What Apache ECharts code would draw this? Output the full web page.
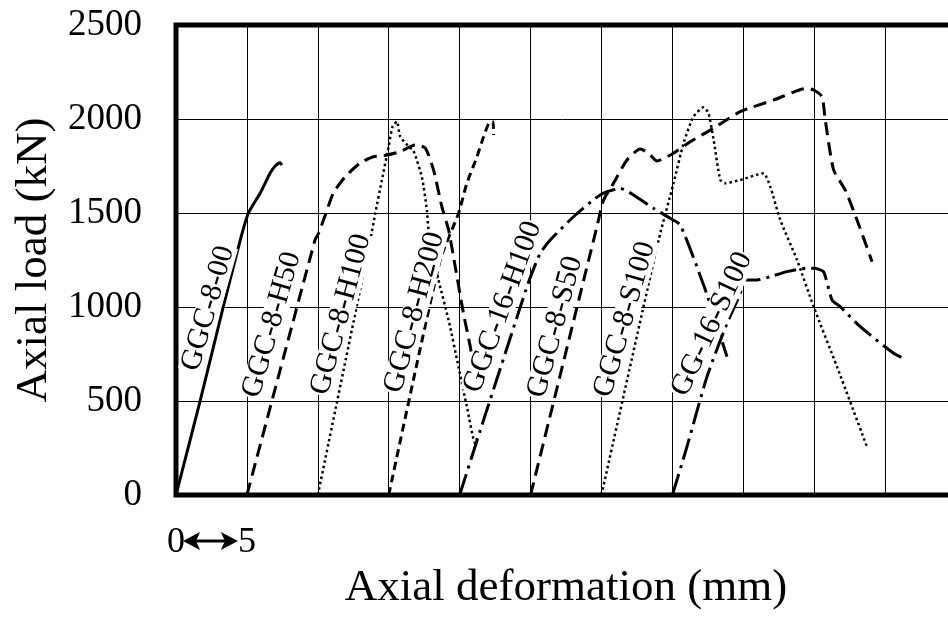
<!DOCTYPE html>
<html><head><meta charset="utf-8">
<script src="https://cdn.jsdelivr.net/npm/echarts@6/dist/echarts.min.js"></script>
<style>html,body{margin:0;padding:0;background:#fff}#c{width:948px;height:618px}</style>
</head><body><div id="c"></div>
<script>
// ---- data (x: axial deformation mm, y: axial load kN) ----
const seriesNames = ['GGC-8-00','GGC-8-H50','GGC-8-H100','GGC-8-H200','GGC-16-H100','GGC-8-S50','GGC-8-S100','GG-16-S100'];
const ggc8_00 = [[0,0],[1.7,500],[3.33,1000],[4.53,1356],[5.11,1500],[5.94,1606],[6.64,1713],[7.0,1750],[7.35,1767],[7.45,1755]];
const ggc8_h50 = [[5.0,0],[9.8,1356],[10.05,1392],[10.57,1498],[11.09,1606],[11.93,1693],[12.99,1766],[13.93,1799],[14.87,1808],[15.81,1826],[16.87,1862],[17.57,1846],[18.16,1729],[18.75,1533],[19.22,1410],[19.69,1214],[20.27,966],[20.75,789],[20.9,720]];
const ggc8_h100 = [[10.0,0],[13.7,1356],[14.05,1498],[14.52,1676],[14.99,1853],[15.27,1959],[15.58,1986],[15.81,1906],[16.52,1846],[16.73,1835],[17.34,1691],[17.69,1516],[17.81,1410],[18.51,1144],[19.22,931],[19.92,682],[20.51,470],[21.1,275],[21.24,303]];
const ggc8_h200 = [[15.0,0],[18.63,1250],[19.92,1498],[20.51,1658],[21.22,1799],[21.69,1906],[22.16,1986],[22.35,1986],[22.39,1915]];
const ggc16_h100 = [[20.0,0],[21.69,399],[23.36,787],[24.84,1128],[25.68,1286],[26.39,1356],[28.03,1480],[29.91,1596],[31.33,1631],[32.26,1596],[33.67,1525],[34.85,1472],[35.56,1436],[37.33,1090],[38.85,736]];
const ggc8_s50 = [[25.0,0],[29.68,1427],[30.15,1569],[30.85,1658],[31.8,1782],[32.74,1840],[33.32,1818],[33.91,1777],[35.08,1818],[36.26,1879],[37.91,1951],[39.79,2039],[42.14,2101],[44.49,2163],[44.96,2154],[45.55,2119],[45.78,1995],[46.37,1729],[47.19,1622],[48.02,1463],[49.08,1241]];
const ggc8_s100 = [[30.0,0],[34.03,1356],[35.08,1658],[35.79,1871],[36.49,2012],[37.2,2062],[37.55,2030],[37.91,1888],[38.38,1676],[38.73,1658],[39.79,1676],[41.43,1711],[41.9,1640],[42.61,1463],[43.79,1250],[44.96,1002],[46.61,682],[48.72,257]];
const gg16_s100 = [[35.0,0],[36.03,257],[37.44,629],[38.85,913],[39.79,1073],[40.02,1144],[40.97,1144],[41.9,1161],[43.08,1188],[44.49,1206],[44.96,1206],[45.66,1188],[46.26,1037],[46.84,1002],[48.25,895],[50.6,754],[51.3,727]];
const allData = [ggc8_00, ggc8_h50, ggc8_h100, ggc8_h200, ggc16_h100, ggc8_s50, ggc8_s100, gg16_s100];

// curve label anchors (data coordinates)
const labelX = [2.26, 6.76, 11.63, 16.81, 23.04, 26.74, 31.64, 37.79];
const labelY = [993, 906, 960, 971, 1000, 894, 934, 909];

// tick labels
const xTickLabels = [0, 5];
const yTickValues = [0, 500, 1000, 1500, 2000, 2500];

// ---- styles ----
const FONT = 'Liberation Serif';
const labelAngle = [74, 74, 75, 75, 70, 75, 74, 65];
const styles = [
  {type:'solid', width:3},
  {type:[13,7], width:3},
  {type:[2.5,3], width:2.5},
  {type:[8,5], width:3},
  {type:[22,6,3,6], width:3},
  {type:[13,7], width:3},
  {type:[2.5,3], width:2.5},
  {type:[22,6,3,6], width:3}
];

const chart = echarts.init(document.getElementById('c'), null, {renderer:'canvas'});

const series = allData.map((d, i) => ({
  name: seriesNames[i], type: 'line', data: d,
  showSymbol: false, symbol: 'none', smooth: 0.2, animation: false,
  lineStyle: {color: '#000', width: styles[i].width, type: styles[i].type},
  markPoint: {
    symbol: 'rect', symbolSize: 1, animation: false,
    itemStyle: {color: 'rgba(0,0,0,0)'},
    data: [{
      coord: [labelX[i], labelY[i]],
      label: {show: true, formatter: seriesNames[i], rotate: labelAngle[i], position: 'inside',
        color: '#000', fontFamily: FONT, fontSize: 30, backgroundColor: '#fff', padding: [0, 1], lineHeight: 25}
    }]
  }
}));

chart.setOption({
  animation: false,
  backgroundColor: '#fff',
  grid: {left: 176, top: 25, width: 780, height: 470, show: true, borderColor: '#000', borderWidth: 5,
    backgroundColor: 'transparent', outerBoundsMode: 'none', containLabel: false},
  xAxis: {
    type: 'value', min: 0, max: 55, interval: 5,
    axisLine: {show: false}, axisTick: {show: false},
    splitLine: {show: true, lineStyle: {color: '#000', width: 1}},
    axisLabel: {show: true, showMinLabel: true, formatter: v => xTickLabels.includes(v) ? String(v) : '',
      fontFamily: FONT, fontSize: 36, color: '#000', margin: 30},
    name: 'Axial deformation (mm)', nameLocation: 'middle', nameGap: 68,
    nameTextStyle: {fontFamily: FONT, fontSize: 45, color: '#000'}
  },
  yAxis: {
    type: 'value', min: yTickValues[0], max: yTickValues[yTickValues.length-1], interval: 500,
    axisLine: {show: false}, axisTick: {show: false},
    splitLine: {show: true, lineStyle: {color: '#000', width: 1}},
    axisLabel: {fontFamily: FONT, fontSize: 37, color: '#000', margin: 34, formatter: v => String(v)},
    name: 'Axial load (kN)', nameLocation: 'middle', nameGap: 119,
    nameTextStyle: {fontFamily: FONT, fontSize: 45, color: '#000'}
  },
  series: series
});

// scale arrow between the "0" and "5" labels
const p0 = chart.convertToPixel({gridIndex: 0}, [0, 0]);
const p5 = chart.convertToPixel({gridIndex: 0}, [5, 0]);
const ax1 = p0[0] + 7, ax2 = p5[0] - 9, ay = p0[1] + 46;
chart.setOption({
  graphic: [
    {type: 'line', shape: {x1: ax1 + 12, y1: ay, x2: ax2 - 12, y2: ay}, style: {stroke: '#000', lineWidth: 3}},
    {type: 'polygon', shape: {points: [[ax1, ay], [ax1 + 17, ay - 9], [ax1 + 13, ay], [ax1 + 17, ay + 9]]}, style: {fill: '#000'}},
    {type: 'polygon', shape: {points: [[ax2, ay], [ax2 - 17, ay - 9], [ax2 - 13, ay], [ax2 - 17, ay + 9]]}, style: {fill: '#000'}}
  ]
});
</script>
</body></html>
